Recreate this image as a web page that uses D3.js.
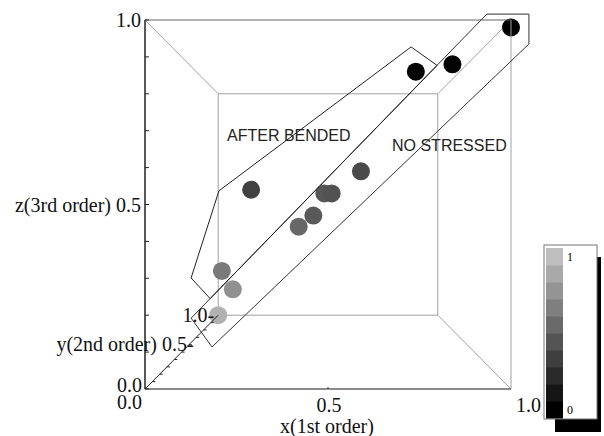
<!DOCTYPE html>
<html>
<head>
<meta charset="utf-8">
<script src="https://cdn.jsdelivr.net/npm/d3@7"></script>
<style>
  body { margin: 0; background: #fff; }
  svg { display: block; }
  .num { font-family: "Liberation Serif", "DejaVu Serif", serif; font-size: 20px; fill: #111; }
  .note { font-family: "Liberation Sans", Arial, sans-serif; font-size: 16px; fill: #222; }
</style>
</head>
<body>
<div id="chart"></div>
<script>
// data points (x = 1st order, y = 2nd order, z = 3rd order, value = colour)
const ptX = [1.00, 0.84, 0.74, 0.59, 0.29, 0.49, 0.51, 0.46, 0.42, 0.21, 0.24, 0.20];
const ptY = [0, 0, 0, 0, 0, 0, 0, 0, 0, 0, 0, 0];
const ptZ = [0.98, 0.88, 0.86, 0.59, 0.54, 0.53, 0.53, 0.47, 0.44, 0.32, 0.27, 0.20];
const ptValue = [0.00, 0.02, 0.01, 0.39, 0.34, 0.45, 0.43, 0.47, 0.54, 0.64, 0.76, 0.93];

// annotation outlines, in front-plane (x, z) units
const noStressedX = [0.126, 0.934, 1.049, 1.049, 0.183];
const noStressedZ = [0.192, 1.016, 1.016, 0.935, 0.114];
const afterBendedX = [0.126, 0.202, 0.727, 0.798, 0.178];
const afterBendedZ = [0.301, 0.537, 0.927, 0.877, 0.245];

const xTickLabels = ["0.0", "0.5", "1.0"];
const legendBands = [0, 1, 2, 3, 4, 5, 6, 7, 8, 9];
const legendLabels = ["0", "1"];

var width = 604, height = 436;
var svg = d3.select("#chart").append("svg")
    .attr("width", width)
    .attr("height", height);

var xScale = d3.scaleLinear().domain([0, 1]).range([145, 511]);
var zScale = d3.scaleLinear().domain([0, 1]).range([389, 20]);
var depth = d3.scaleLinear().domain([0, 1]).range([1, 0.6]);
var gray = d3.scaleLinear().domain([0, 1]).range(["#000000", "#bebebe"]);
var cx = (xScale(0) + xScale(1)) / 2, cy = (zScale(0) + zScale(1)) / 2;

function project(x, y, z) {
  var s = depth(y);
  return [cx + (xScale(x) - cx) * s, cy + (zScale(z) - cy) * s];
}
function seg(a, b, color, w) {
  var p = project.apply(null, a), q = project.apply(null, b);
  svg.append("line")
    .attr("x1", p[0]).attr("y1", p[1]).attr("x2", q[0]).attr("y2", q[1])
    .attr("stroke", color).attr("stroke-width", w || 1);
}

// back face + connecting edges
var lite = "#a0a0a0";
seg([0,1,0],[1,1,0], lite); seg([1,1,0],[1,1,1], lite);
seg([1,1,1],[0,1,1], lite); seg([0,1,1],[0,1,0], lite);
seg([0,0,1],[0,1,1], lite); seg([1,0,1],[1,1,1], lite);
seg([1,0,0],[1,1,0], lite);

// points
svg.append("g").selectAll("circle")
  .data(ptX.map((d, i) => i))
  .join("circle")
    .attr("cx", i => project(ptX[i], ptY[i], ptZ[i])[0])
    .attr("cy", i => project(ptX[i], ptY[i], ptZ[i])[1])
    .attr("r", 9)
    .attr("fill", i => gray(ptValue[i]));

// front face
seg([1,0,0],[1,0,1], lite);
seg([0,0,1],[1,0,1], "#666");
seg([0,0,0],[1,0,0], "#666", 1.5);
seg([0,0,0],[0,0,1], "#222", 1.5);
seg([0,0,0],[0,1,0], "#222");

// z ticks (inward)
d3.range(0, 1.01, 0.1).forEach(function(t) {
  svg.append("line")
    .attr("x1", xScale(0)).attr("x2", xScale(0) + 4)
    .attr("y1", zScale(t)).attr("y2", zScale(t))
    .attr("stroke", "#222");
});
// x tick at middle
svg.append("line")
  .attr("x1", xScale(0.5)).attr("x2", xScale(0.5))
  .attr("y1", zScale(0)).attr("y2", zScale(0) - 2)
  .attr("stroke", "#444");
// y ticks along depth axis
d3.range(0.1, 1, 0.1).forEach(function(t) {
  var p = project(0, t, 0);
  svg.append("line")
    .attr("x1", p[0]).attr("x2", p[0] + 3)
    .attr("y1", p[1]).attr("y2", p[1])
    .attr("stroke", "#222");
});

// annotation outlines
var outline = d3.line().x(d => xScale(d[0])).y(d => zScale(d[1])).curve(d3.curveLinearClosed);
svg.append("path")
  .attr("d", outline(noStressedX.map((d, i) => [d, noStressedZ[i]])))
  .attr("fill", "none").attr("stroke", "#333");
svg.append("path")
  .attr("d", outline(afterBendedX.map((d, i) => [d, afterBendedZ[i]])))
  .attr("fill", "none").attr("stroke", "#222");

svg.append("text").attr("class", "note").attr("x", 227).attr("y", 141).text("AFTER BENDED");
svg.append("text").attr("class", "note").attr("x", 392).attr("y", 151).text("NO STRESSED");

// axis labels
function label(txt, x, y, anchor) {
  svg.append("text").attr("class", "num")
    .attr("x", x).attr("y", y).attr("dy", "0.35em")
    .attr("text-anchor", anchor)
    .text(txt);
}
label("1.0", xScale(0) - 4, zScale(1), "end");
label("z(3rd order) 0.5", xScale(0) - 4, zScale(0.5), "end");
label("0.0", xScale(0) - 3, zScale(0) - 4, "end");

var xAnchor = ["end", "middle", "start"];
var xShift = [-3, 1, 5];
xTickLabels.forEach(function(t, i) {
  label(t, xScale(+t) + xShift[i], i == 0 ? 402 : 405, xAnchor[i]);
});
label("x(1st order)", xScale(0.5) - 1, 426, "middle");

var yEnd = project(0, 1, 0), yMid = project(0, 0.5, 0);
label("1.0-", yEnd[0] - 4, yEnd[1], "end");
label("y(2nd order) 0.5-", yMid[0] + 12, yMid[1] - 8, "end");

// colour legend
var lg = svg.append("g");
lg.append("rect").attr("x", 555).attr("y", 257).attr("width", 46).attr("height", 175).attr("fill", "#000");
lg.append("rect").attr("x", 544).attr("y", 245).attr("width", 53).attr("height", 174)
  .attr("fill", "#fff").attr("stroke", "#777");
var bandY = d3.scaleBand().domain(legendBands.slice().reverse()).range([248, 418]);
lg.selectAll("rect.band")
  .data(legendBands)
  .join("rect")
    .attr("class", "band")
    .attr("x", 546).attr("width", 17)
    .attr("y", d => bandY(d)).attr("height", bandY.bandwidth() + 0.5)
    .attr("fill", d => gray(d / 9));
lg.selectAll("text")
  .data(legendLabels)
  .join("text")
    .attr("x", 567)
    .attr("y", (d, i) => i == 0 ? 410 : 257)
    .attr("dy", "0.35em")
    .style("font-family", "Liberation Serif, serif")
    .style("font-size", "12px")
    .text(d => d);
</script>
</body>
</html>
